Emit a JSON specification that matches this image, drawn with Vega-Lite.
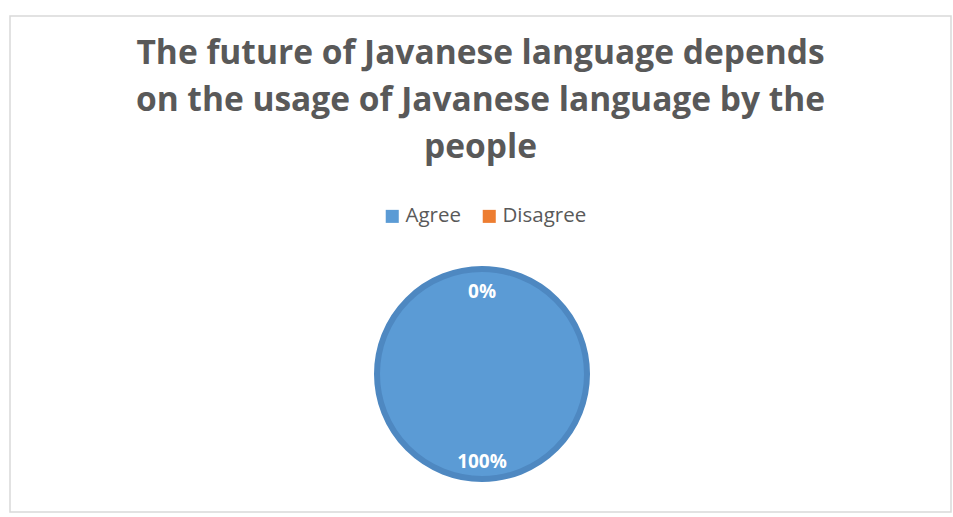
{
  "$schema": "https://vega.github.io/schema/vega-lite/v6.json",
  "width": 941,
  "height": 496,
  "autosize": {"type": "none"},
  "padding": {"left": 10, "top": 16, "right": 2, "bottom": 5},
  "background": "white",
  "view": {"stroke": "#D9D9D9", "strokeWidth": 1.5, "fill": "white"},
  "title": {
    "text": ["The future of Javanese language depends", "on the usage of Javanese language by the", "people"],
    "anchor": "middle",
    "frame": "group",
    "orient": "top",
    "offset": -149,
    "font": "Open Sans",
    "fontSize": 33.5,
    "fontWeight": "bold",
    "color": "#595959",
    "lineHeight": 47
  },
  "data": {"values": [
    {"response": "Agree", "share": 1.0},
    {"response": "Disagree", "share": 0.0}
  ]},
  "encoding": {
    "theta": {"field": "share", "type": "quantitative", "stack": true},
    "color": {
      "field": "response",
      "type": "nominal",
      "scale": {"domain": ["Agree", "Disagree"], "range": ["#5B9BD5", "#ED7D31"]},
      "legend": {
        "orient": "none",
        "legendX": 372,
        "legendY": 190,
        "direction": "horizontal",
        "title": null,
        "symbolType": "square",
        "symbolSize": 170,
        "symbolStrokeWidth": 0,
        "labelFontSize": 20.5,
        "labelFont": "Open Sans",
        "labelColor": "#595959",
        "labelOffset": 3,
        "columnPadding": 18
      }
    }
  },
  "layer": [
    {
      "transform": [{"filter": "datum.share > 0"}],
      "mark": {"type": "arc", "outerRadius": 105, "stroke": "#4E88C1", "strokeWidth": 6, "xOffset": 1.5, "yOffset": 110}
    },
    {
      "mark": {"type": "text", "radius": 85, "color": "white", "fontWeight": "bold", "fontSize": 19, "font": "Open Sans", "xOffset": 1.5, "yOffset": 113},
      "encoding": {
        "text": {"field": "share", "type": "quantitative", "format": ".0%"},
        "color": {"value": "white"}
      }
    }
  ]
}
